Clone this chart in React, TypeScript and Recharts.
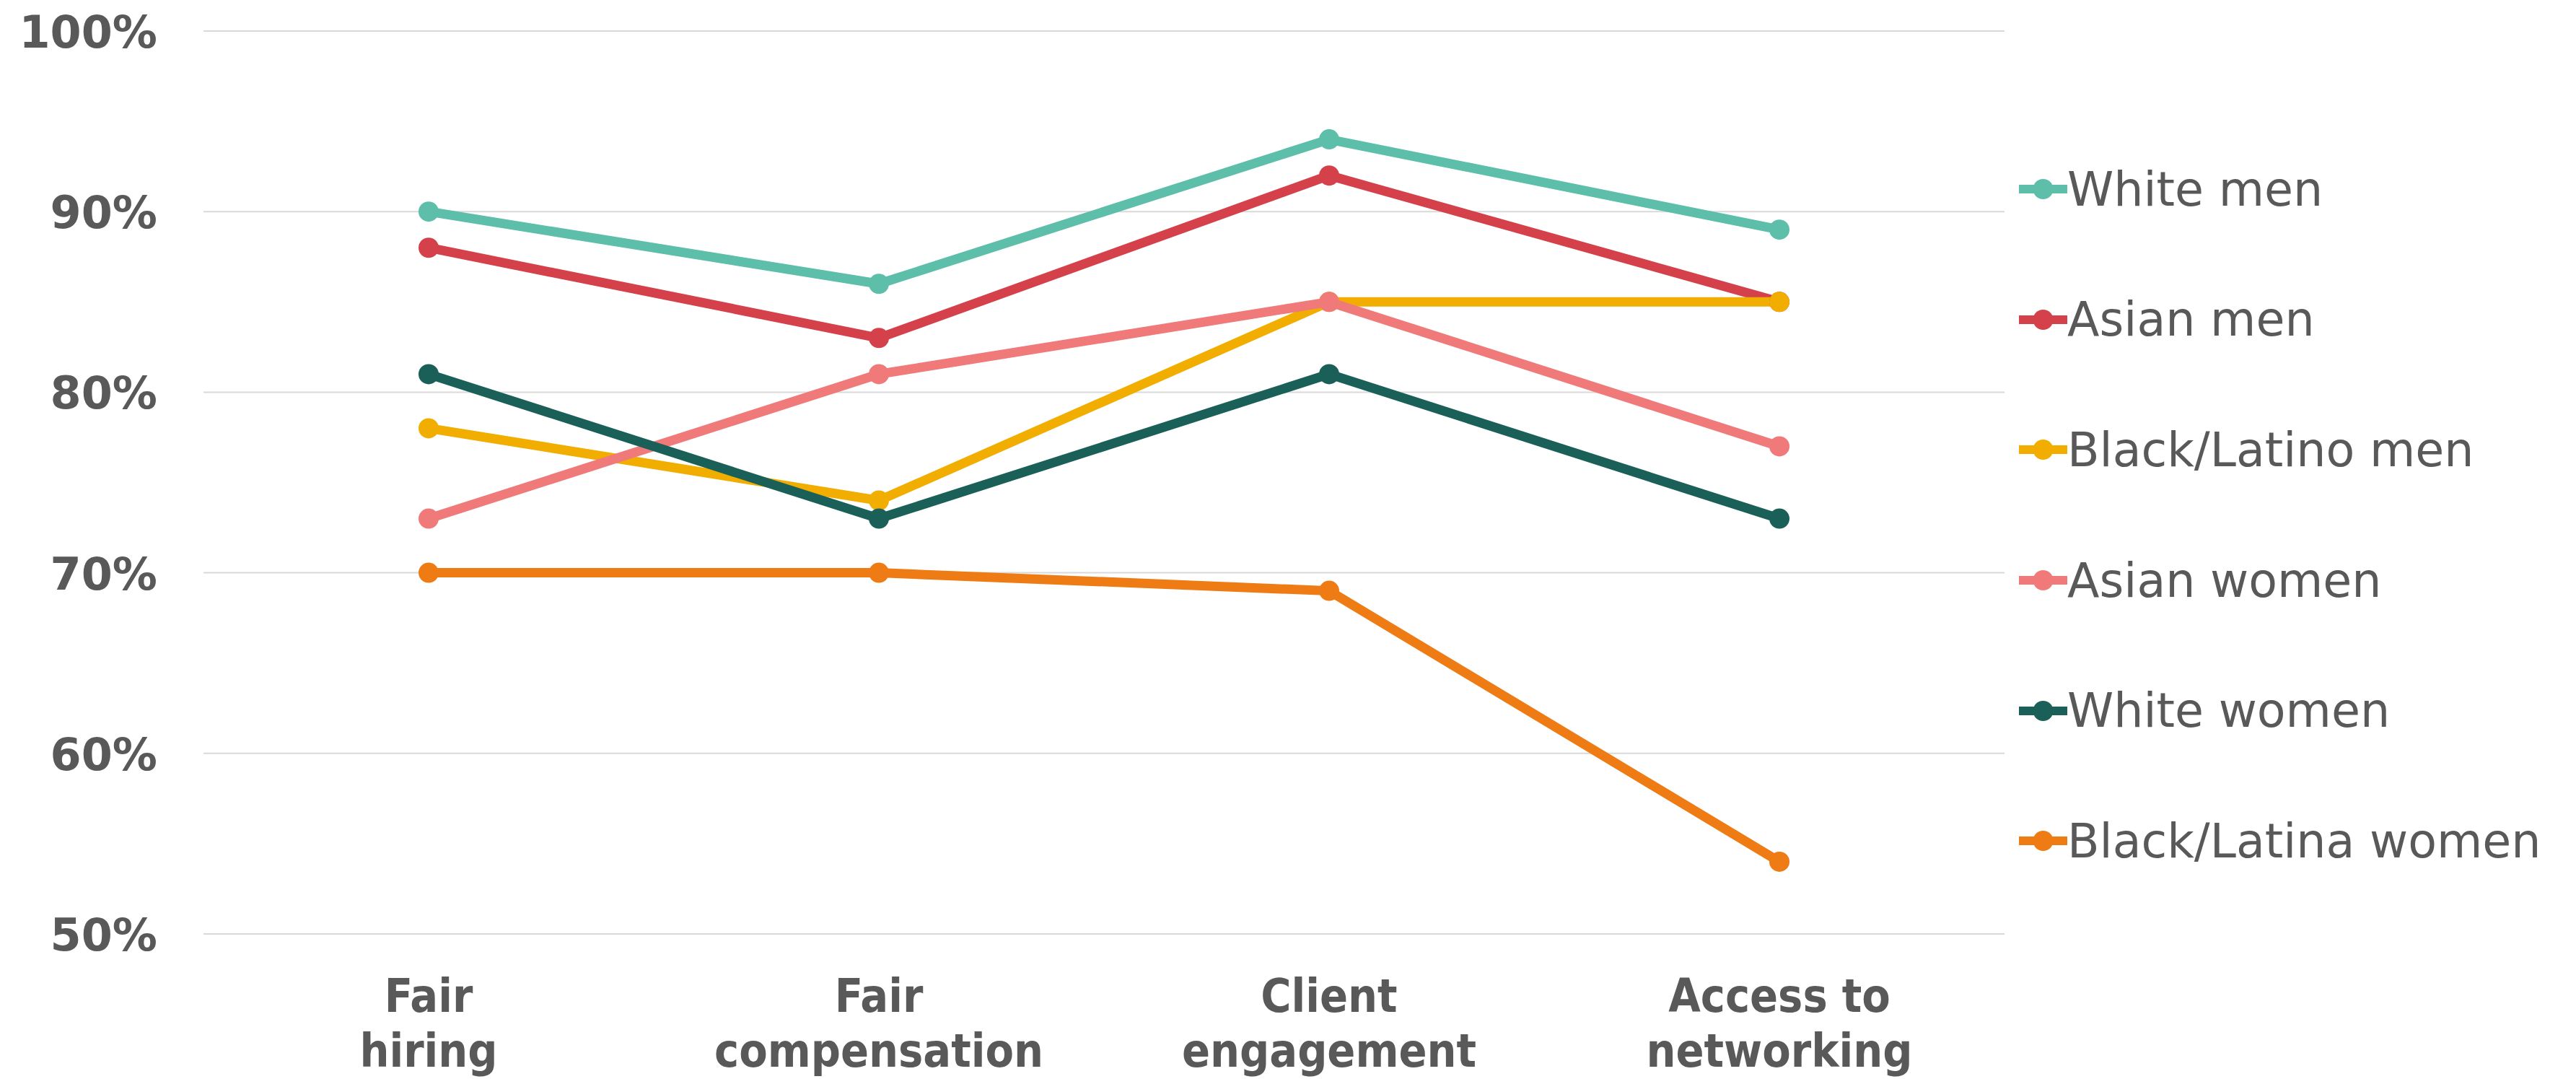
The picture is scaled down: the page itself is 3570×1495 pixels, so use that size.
import React from "react";
import { LineChart, Line, XAxis, YAxis, CartesianGrid } from "recharts";

const categories = ["Fair hiring", "Fair compensation", "Client engagement", "Access to networking"];
const categoryLines = [
  ["Fair", "hiring"],
  ["Fair", "compensation"],
  ["Client", "engagement"],
  ["Access to", "networking"],
];

const whiteMen = [90, 86, 94, 89];
const asianMen = [88, 83, 92, 85];
const blackLatinoMen = [78, 74, 85, 85];
const asianWomen = [73, 81, 85, 77];
const whiteWomen = [81, 73, 81, 73];
const blackLatinaWomen = [70, 70, 69, 54];

const yTicks = [50, 60, 70, 80, 90, 100];

const series = [
  { key: "whiteMen", name: "White men", color: "#5DBEAA", values: whiteMen },
  { key: "asianMen", name: "Asian men", color: "#D4414A", values: asianMen },
  { key: "blackLatinoMen", name: "Black/Latino men", color: "#F2AE00", values: blackLatinoMen },
  { key: "asianWomen", name: "Asian women", color: "#F07A7A", values: asianWomen },
  { key: "whiteWomen", name: "White women", color: "#1A6058", values: whiteWomen },
  { key: "blackLatinaWomen", name: "Black/Latina women", color: "#EE7B14", values: blackLatinaWomen },
];

const data = categories.map((category, i) => {
  const row: Record<string, string | number> = { category };
  series.forEach((s) => {
    row[s.key] = s.values[i];
  });
  return row;
});

const NARROW = "'DejaVu Sans Condensed', 'DejaVu Sans', sans-serif";
const FONT = "'DejaVu Sans', sans-serif";
const TEXT = "#595959";

function CategoryTick(props: any) {
  const { x, y, payload } = props;
  const lines = categoryLines[categories.indexOf(payload.value)] || [payload.value];
  return (
    <text x={x} y={y} textAnchor="middle" fill={TEXT} fontFamily={NARROW} fontWeight={700} fontSize={64}>
      {lines.map((line, i) => (
        <tspan key={i} x={x} y={y + 108 + i * 76}>
          {line}
        </tspan>
      ))}
    </text>
  );
}

function PercentTick(props: any) {
  const { x, y, payload } = props;
  return (
    <text x={x - 64} y={y + 23} textAnchor="end" fill={TEXT} fontFamily={FONT} fontWeight={700} fontSize={62}>
      {`${payload.value}%`}
    </text>
  );
}

function SeriesLegend() {
  return (
    <div style={{ position: "absolute", left: 2798, top: 172, fontFamily: FONT, color: TEXT }}>
      {series.map((s) => (
        <div key={s.key} style={{ height: 180.6, display: "flex", alignItems: "center" }}>
          <svg width={67} height={30} style={{ flex: "none" }}>
            <line x1={0} y1={15} x2={67} y2={15} stroke={s.color} strokeWidth={12} strokeLinecap="round" />
            <circle cx={33.5} cy={15} r={14} fill={s.color} />
          </svg>
          <span style={{ fontSize: 65, whiteSpace: "nowrap", lineHeight: 1 }}>{s.name}</span>
        </div>
      ))}
    </div>
  );
}

export default function App() {
  return (
    <div style={{ position: "absolute", left: 0, top: 0, width: 3570, height: 1495, background: "#fff" }}>
      <LineChart width={3570} height={1495} data={data} margin={{ top: 43, right: 792, bottom: 41, left: 0 }}>
        <CartesianGrid vertical={false} stroke="#D9D9D9" strokeWidth={2} />
        <XAxis
          dataKey="category"
          axisLine={false}
          tickLine={false}
          tickSize={0}
          tickMargin={0}
          height={160}
          padding={{ left: 312, right: 312 }}
          interval={0}
          tick={<CategoryTick />}
        />
        <YAxis
          domain={[50, 100]}
          ticks={yTicks}
          axisLine={false}
          tickLine={false}
          tickSize={0}
          tickMargin={0}
          width={282}
          tick={<PercentTick />}
        />
        {series.map((s) => (
          <Line
            key={s.key}
            dataKey={s.key}
            name={s.name}
            type="linear"
            stroke={s.color}
            strokeWidth={13}
            dot={{ r: 14, fill: s.color, stroke: "none" }}
            isAnimationActive={false}
          />
        ))}
      </LineChart>
      <SeriesLegend />
    </div>
  );
}
